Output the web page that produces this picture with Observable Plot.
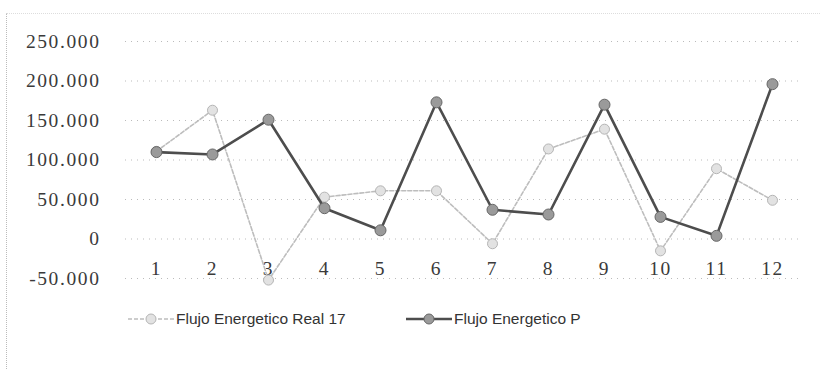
<!DOCTYPE html>
<html>
<head>
<meta charset="utf-8">
<script src="https://cdn.jsdelivr.net/npm/d3@7"></script>
<script src="https://cdn.jsdelivr.net/npm/@observablehq/plot@0.6"></script>
<style>
  html, body { margin: 0; padding: 0; background: #fff; }
  #wrap { position: relative; width: 820px; height: 369px; overflow: hidden; }
  #frame { position: absolute; left: 6px; top: 13px; width: 830px; height: 400px;
           border-left: 1px dotted #bbb; border-top: 1px dotted #ddd; box-sizing: border-box; }
  #chart { position: absolute; left: 0; top: 0; }
  #legend { position: absolute; left: 0; top: 300px; width: 820px; height: 40px;
            font-family: "Liberation Sans", sans-serif; font-size: 15.5px; color: #333; }
  .item { position: absolute; top: 8px; display: flex; align-items: center; white-space: nowrap; }
  .item svg { display: block; }
</style>
</head>
<body>
<div id="wrap">
  <div id="frame"></div>
  <div id="chart"></div>
  <div id="legend"></div>
</div>
<script>
const months = ["1","2","3","4","5","6","7","8","9","10","11","12"];
const realValues = [111000, 163000, -52000, 53000, 61000, 61000, -6000, 114000, 139000, -15000, 89000, 49000];
const pValues = [110000, 107000, 151000, 39000, 11000, 173000, 37000, 31000, 170000, 28000, 4000, 196000];
const yTicks = [-50000, 0, 50000, 100000, 150000, 200000, 250000];
const seriesNames = ["Flujo Energetico Real 17", "Flujo Energetico P"];

const realData = months.map((m, i) => ({m, v: realValues[i]}));
const pData = months.map((m, i) => ({m, v: pValues[i]}));

const fmt = v => (v < 0 ? "-" : "") + d3.format(",")(Math.abs(v)).replace(/,/g, ".");

const chart = Plot.plot({
  width: 820,
  height: 300,
  marginTop: 41,
  marginBottom: 22,
  marginLeft: 125,
  marginRight: 17,
  style: {fontFamily: "Liberation Serif", fontSize: "19.5px", color: "#333", background: "transparent", letterSpacing: "1.6px"},
  x: {type: "point", domain: months, padding: 0.5, label: null},
  y: {domain: [-50000, 250000], label: null},
  marks: [
    Plot.gridY(yTicks, {stroke: "#bbb", strokeOpacity: 1, strokeDasharray: "1,5"}),
    Plot.axisY(yTicks, {tickSize: 0, tickPadding: 25, tickFormat: fmt, fill: "#3a3a3a", label: null}),
    Plot.axisX({anchor: "bottom", tickSize: 0, tickPadding: 0, dy: -17, fill: "#3a3a3a", label: null}),
    Plot.line(realData, {x: "m", y: "v", stroke: "#bdbdbd", strokeWidth: 1.6, strokeDasharray: "4,2"}),
    Plot.dot(realData, {x: "m", y: "v", r: 5, fill: "#e2e2e2", stroke: "#b5b5b5", strokeWidth: 1}),
    Plot.line(pData, {x: "m", y: "v", stroke: "#4d4d4d", strokeWidth: 2.6}),
    Plot.dot(pData, {x: "m", y: "v", r: 5.5, fill: "#9a9a9a", stroke: "#666", strokeWidth: 1})
  ]
});
document.getElementById("chart").appendChild(chart);

const legend = document.getElementById("legend");
const legendStyles = [
  {left: 127, stroke: "#bdbdbd", dash: "4,2", sw: 1.6, fill: "#e2e2e2", ms: "#b5b5b5"},
  {left: 405, stroke: "#4d4d4d", dash: null, sw: 2.6, fill: "#9a9a9a", ms: "#666"}
];
seriesNames.forEach((name, i) => {
  const s = legendStyles[i];
  const item = document.createElement("div");
  item.className = "item";
  item.style.left = s.left + "px";
  item.innerHTML =
    `<svg width="48" height="22"><line x1="1" y1="11" x2="47" y2="11" stroke="${s.stroke}" stroke-width="${s.sw}" ${s.dash ? `stroke-dasharray="${s.dash}"` : ""}/>` +
    `<circle cx="24" cy="11" r="5" fill="${s.fill}" stroke="${s.ms}"/></svg>` +
    `<span style="margin-left:1px">${name}</span>`;
  legend.appendChild(item);
});
</script>
</body>
</html>
